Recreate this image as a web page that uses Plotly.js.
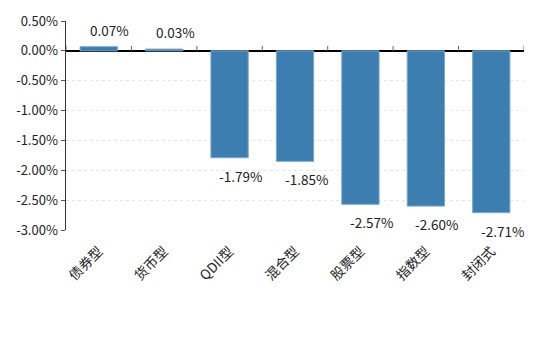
<!DOCTYPE html>
<html><head><meta charset="utf-8">
<script src="https://cdn.plot.ly/plotly-3.0.1.min.js"></script>
<style>html,body{margin:0;padding:0;background:#fff}#c{width:536px;height:351px}</style>
</head><body><div id="c"></div>
<script>
const categories = ["债券型","货币型","QDII型","混合型","股票型","指数型","封闭式"];
const values = [0.07, 0.03, -1.79, -1.85, -2.57, -2.60, -2.71];
const yTickVals = [0.5, 0, -0.5, -1, -1.5, -2, -2.5, -3];
const yTickText = ["0.50%","0.00%","-0.50%","-1.00%","-1.50%","-2.00%","-2.50%","-3.00%"];

const font = "'Noto Sans CJK SC', 'Noto Sans', sans-serif";
const annotations = values.map((v, i) => ({
  x: categories[i], y: v, xref: 'x', yref: 'y',
  text: v.toFixed(2) + '%', showarrow: false,
  yanchor: v >= 0 ? 'bottom' : 'top',
  yshift: v >= 0 ? 5 : -6, xshift: 11,
  font: {family: font, size: 13.5, color: '#222'}
}));
const shapes = [];
for (let i = 0; i <= categories.length; i++) {
  shapes.push({type: 'line', xref: 'x', yref: 'y', ysizemode: 'pixel', yanchor: 0,
    x0: i - 0.5, x1: i - 0.5, y0: 0, y1: 5, line: {color: '#666', width: 1}});
}
Plotly.newPlot('c', [{
  type: 'bar', x: categories, y: values,
  marker: {color: '#3d7eb0', line: {color: '#7aa8d0', width: 1}},
  width: 0.57, hoverinfo: 'none'
}], {
  width: 536, height: 351,
  margin: {l: 66, r: 12, t: 21, b: 121},
  paper_bgcolor: '#fff', plot_bgcolor: '#fff',
  showlegend: false,
  font: {family: font, size: 13, color: '#222'},
  xaxis: {type: 'category', tickangle: -45, showgrid: false, zeroline: false,
    showline: false, ticks: '', ticklabelstandoff: 10,
    tickfont: {family: font, size: 13.5, color: '#222'},
    range: [-0.5, 6.5]},
  yaxis: {range: [-3, 0.5], tickvals: yTickVals, ticktext: yTickText,
    showgrid: true, gridcolor: '#e6e6e6', griddash: 'dot', gridwidth: 1,
    zeroline: true, zerolinecolor: '#000', zerolinewidth: 1.5,
    showline: true, linecolor: '#333', linewidth: 1.5,
    ticks: 'outside', ticklen: 4, tickcolor: '#555',
    tickfont: {family: font, size: 13, color: '#222'}},
  annotations: annotations, shapes: shapes
}, {displayModeBar: false, staticPlot: true});
</script></body></html>
